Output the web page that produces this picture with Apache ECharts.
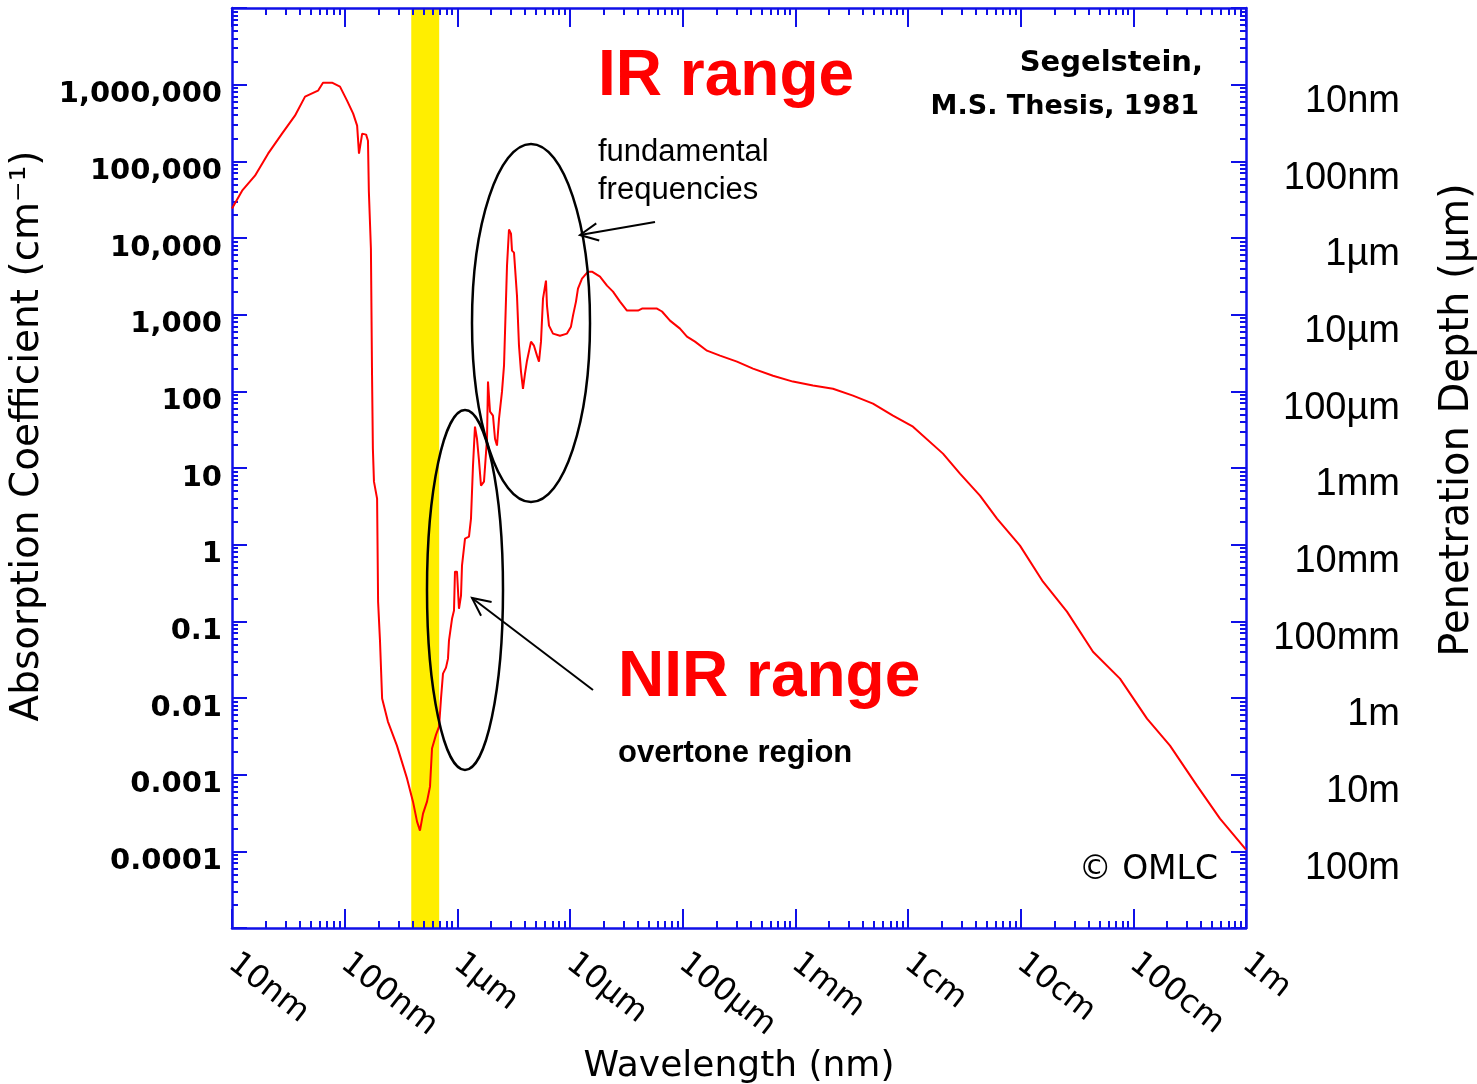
<!DOCTYPE html>
<html>
<head>
<meta charset="utf-8">
<title>Water absorption</title>
<script src="https://cdn.jsdelivr.net/npm/echarts@6/dist/echarts.min.js"></script>
<style>
html, body { margin: 0; padding: 0; background: #fff; }
#main { width: 1477px; height: 1084px; }
</style>
</head>
<body>
<div id="main"></div>
<script>
// wavelength (nm)
var wavelength = [10, 12.3, 16.0, 20.9, 27.8, 36.2, 44.5, 58.0, 64.2, 77.2, 90.9, 105, 119, 129, 134, 143, 155, 161, 164, 171,
    175, 178, 182, 194, 198, 206, 215, 242, 291, 358, 404, 439, 466, 496, 538, 572, 596, 647, 688, 716,
    746, 793, 826, 843, 897, 934, 953, 993, 1034, 1078, 1100, 1170, 1269, 1322, 1377, 1434, 1494, 1557, 1622, 1724,
    1834, 1871, 1950, 2072, 2159, 2249, 2344, 2491, 2596, 2760, 2874, 2994, 3056, 3184, 3384, 3526, 3673, 3826, 3986, 4153,
    4507, 4790, 5094, 5306, 5527, 5759, 6121, 6248, 6509, 7063, 8150, 9404, 10200, 10630, 11300, 11770, 12780, 14440, 15670, 18460,
    21300, 24080, 27780, 32050, 40130, 43550, 59180, 65550, 77200, 94680, 109200, 128700, 164400, 214500, 303500, 420900, 633300, 953000, 1434000, 2159000,
    3248000, 4888000, 7356000, 1.107e7, 2.044e7, 2.893e7, 4.353e7, 6.162e7, 9.86e7, 1.578e8, 2.576e8, 4.384e8, 7.609e8, 1.322e9, 2.115e9, 3.672e9, 5.875e9, 1e10];
// absorption coefficient (cm^-1)
var absorption = [24200, 41400, 65000, 126000, 230000, 394000, 698000, 835000, 1060000, 1060000, 942000, 619000, 419000, 292000, 126000, 230000, 223000, 186000, 40200, 7260,
    160, 17.9, 6.64, 3.98, 0.181, 0.0543, 0.00982, 0.00492, 0.00239, 0.000887, 0.000445, 0.000244, 0.000186, 0.00031, 0.000445, 0.000698, 0.00219, 0.00333, 0.00423, 0.00982,
    0.0208, 0.0249, 0.0326, 0.056, 0.108, 0.138, 0.445, 0.445, 0.146, 0.216, 0.532, 1.2, 1.27, 2.19, 10.7, 34.6, 24.1, 12.5, 5.89, 6.64,
    24.1, 134, 54.3, 48.2, 24.1, 19.6, 44, 99, 216, 4360, 12900, 11400, 6840, 6440, 1770, 394, 181, 108, 170, 251,
    445, 394, 292, 244, 445, 1620, 2780, 1310, 719, 566, 532, 566, 698, 971, 1480, 2180, 2950, 3640, 3640, 3130,
    2390, 2000, 1480, 1130, 1130, 1200, 1200, 1100, 836, 657, 517, 445, 339, 292, 244, 198, 160, 134, 119, 108,
    87.8, 69.1, 48.2, 34.6, 15.4, 8.44, 4.36, 2.19, 0.971, 0.329, 0.134, 0.0402, 0.0179, 0.00538, 0.00239, 0.000719, 0.000267, 0.000105];

var visibleBand = [390, 690];   // nm

var xTickLabels = ['10nm', '100nm', '1µm', '10µm', '100µm', '1mm', '1cm', '10cm', '100cm', '1m'];   // 1e1 .. 1e10
var yTickLabels = ['0.0001', '0.001', '0.01', '0.1', '1', '10', '100', '1,000', '10,000', '100,000', '1,000,000'];  // 1e-4 .. 1e6
var depthTickLabels = ['100m', '10m', '1m', '100mm', '10mm', '1mm', '100µm', '10µm', '1µm', '100nm', '10nm'];     // 1e-4 .. 1e6

function decades(a, b) {
    var out = [];
    for (var k = a; k <= b; k++) out.push(Number('1e' + k));
    return out;
}
function minors(a, b) {
    var out = [];
    for (var k = a; k < b; k++) {
        for (var m = 2; m <= 9; m++) out.push(m * Number('1e' + k));
    }
    return out;
}

var blue = '#1010e8';
var xMajor = decades(1, 10), xMinor = minors(1, 10);
var yMajor = decades(-5, 7), yMinor = minors(-5, 7);
var yLabelVals = decades(-4, 6);

var seriesData = wavelength.map(function (w, i) { return [w, absorption[i]]; });

function xAx(pos, major, withLabel) {
    var ax = {
        type: 'log', logBase: 10, min: 10, max: 1e10, position: pos, gridIndex: 0,
        axisLine: { show: major, lineStyle: { color: blue, width: 2.5 } },
        axisTick: { inside: true, length: major ? 19 : 7, lineStyle: { color: blue, width: 2 },
            customValues: major ? xMajor : xMinor },
        axisLabel: { show: false },
        splitLine: { show: false }
    };
    if (withLabel) {
        ax.axisLabel = {
            show: true, customValues: xMajor, rotate: -38, margin: 32,
            color: '#000', fontFamily: 'DejaVu Sans', fontSize: 32,
            formatter: function (v) { return xTickLabels[Math.round(Math.log10(v)) - 1]; }
        };
        ax.name = 'Wavelength (nm)';
        ax.nameLocation = 'middle';
        ax.nameGap = 118;
        ax.nameTextStyle = { color: '#000', fontFamily: 'DejaVu Sans', fontSize: 36 };
    }
    return ax;
}

function yAx(pos, major) {
    return {
        type: 'log', logBase: 10, min: 1e-5, max: 1e7, position: pos, gridIndex: 0,
        axisLine: { show: major, lineStyle: { color: blue, width: 2.5 } },
        axisTick: { inside: true, length: major ? 15 : 6, lineStyle: { color: blue, width: 2 },
            customValues: major ? yMajor : yMinor },
        axisLabel: { show: false },
        splitLine: { show: false }
    };
}

var yLeft = yAx('left', true);
yLeft.axisLabel = {
    show: true, customValues: yLabelVals, margin: 10, color: '#000', verticalAlign: 'top', lineHeight: 20,
    fontFamily: 'DejaVu Sans', fontWeight: 'bold', fontSize: 29,
    formatter: function (v) { return yTickLabels[Math.round(Math.log10(v)) + 4]; }
};
yLeft.name = 'Absorption Coefficient (cm⁻¹)';
yLeft.nameLocation = 'middle';
yLeft.nameRotate = 90;
yLeft.nameGap = 172;
yLeft.nameTextStyle = { color: '#000', fontFamily: 'DejaVu Sans', fontSize: 39, padding: [0, 0, 0, 64] };

var yRight = yAx('right', true);
yRight.axisLabel = {
    show: true, customValues: yLabelVals, margin: 154, align: 'right', verticalAlign: 'top',
    lineHeight: 34, color: '#000', fontFamily: 'Liberation Sans', fontSize: 38,
    formatter: function (v) { return depthTickLabels[Math.round(Math.log10(v)) + 4]; }
};
yRight.name = 'Penetration Depth (µm)';
yRight.nameLocation = 'middle';
yRight.nameRotate = 90;
yRight.nameGap = 192;
yRight.nameTextStyle = { color: '#000', fontFamily: 'DejaVu Sans', fontSize: 40, padding: [0, 0, 0, 96] };

function arrow(x1, y1, x2, y2) {
    var a = Math.atan2(y1 - y2, x1 - x2), L = 20, s = 0.45;
    return [
        { type: 'line', z: 100, shape: { x1: x1, y1: y1, x2: x2, y2: y2 }, style: { stroke: '#000', lineWidth: 2 } },
        { type: 'polyline', z: 100, shape: { points: [
            [x2 + L * Math.cos(a + s), y2 + L * Math.sin(a + s)], [x2, y2],
            [x2 + L * Math.cos(a - s), y2 + L * Math.sin(a - s)]] },
          style: { stroke: '#000', fill: 'none', lineWidth: 2 } }
    ];
}

function txt(x, y, s, size, color, weight, family, align, lh) {
    return { type: 'text', x: x, y: y, z: 100, style: {
        text: s, fill: color, fontSize: size, fontWeight: weight, fontFamily: family,
        align: align || 'left', verticalAlign: 'middle', lineHeight: lh || size } };
}

var annotations = [
    { type: 'ellipse', z: 100, shape: { cx: 531, cy: 323, rx: 59, ry: 179 }, style: { fill: 'none', stroke: '#000', lineWidth: 2.5 } },
    { type: 'ellipse', z: 100, shape: { cx: 465, cy: 590, rx: 38, ry: 180 }, style: { fill: 'none', stroke: '#000', lineWidth: 2.5 } },
    txt(598, 77, 'IR range', 64, '#ff0000', 'bold', 'Liberation Sans'),
    txt(618, 678, 'NIR range', 64, '#ff0000', 'bold', 'Liberation Sans'),
    txt(618, 753, 'overtone region', 31, '#000', 'bold', 'Liberation Sans'),
    txt(598, 171, 'fundamental\nfrequencies', 31, '#000', 'normal', 'Liberation Sans', 'left', 38),
    txt(1203, 63, 'Segelstein,', 29, '#000', 'bold', 'DejaVu Sans', 'right'),
    txt(1199, 107, 'M.S. Thesis, 1981', 27, '#000', 'bold', 'DejaVu Sans', 'right'),
    txt(1218, 870, '© OMLC', 33, '#000', 'normal', 'DejaVu Sans', 'right')
].concat(arrow(655, 222, 580, 235), arrow(593, 690, 472, 598));

var chart = echarts.init(document.getElementById('main'));
chart.setOption({
    animation: false,
    backgroundColor: '#fff',
    grid: { left: 232, top: 8, right: 231, bottom: 156, containLabel: false, outerBoundsMode: 'none' },
    xAxis: [xAx('bottom', true, true), xAx('bottom', false), xAx('top', true), xAx('top', false)],
    yAxis: [yLeft, yAx('left', false), yRight, yAx('right', false)],
    series: [{
        // visible band, drawn underneath
        type: 'line',
        xAxisIndex: 0,
        yAxisIndex: 0,
        z: 0,
        data: [],
        markArea: {
            silent: true,
            z: 0,
            itemStyle: { color: '#ffee00', opacity: 1 },
            data: [[{ xAxis: visibleBand[0] }, { xAxis: visibleBand[1] }]]
        }
    }, {
        type: 'line',
        xAxisIndex: 0,
        yAxisIndex: 0,
        z: 10,
        data: seriesData,
        showSymbol: false,
        lineStyle: { color: '#ff0000', width: 2 }
    }],
    graphic: { elements: annotations }
});
</script>
</body>
</html>
